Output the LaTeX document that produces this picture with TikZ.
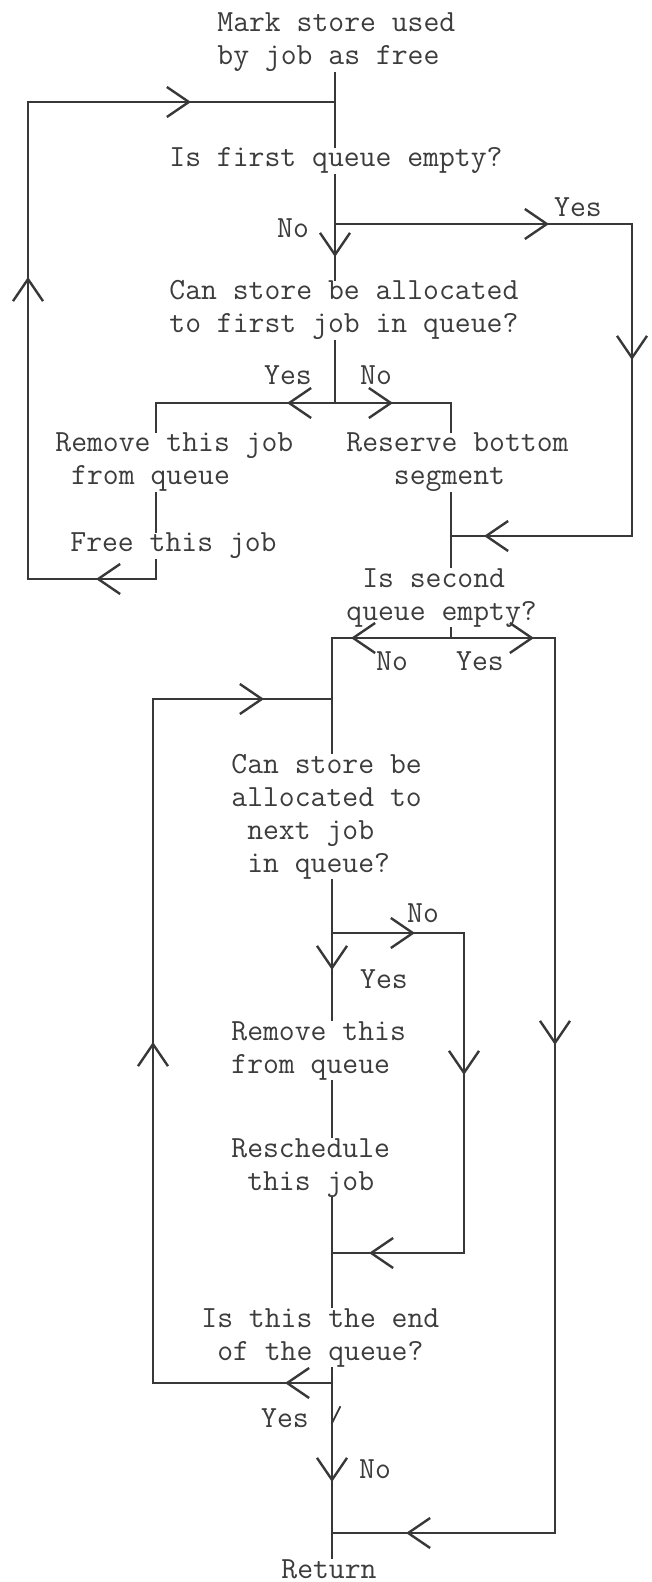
\documentclass[tikz,border=0pt]{standalone}
\usetikzlibrary{arrows.meta,decorations.markings}
\definecolor{ink}{HTML}{383838}
\definecolor{type}{HTML}{3C3C3C}
\tikzset{
  flow/.style={draw=ink,line width=1.4pt,line cap=rect},
  midarr/.style={postaction={decorate},decoration={markings,
    mark=at position #1 with {\arrow{Straight Barb[length=11pt,width=15pt,line width=1.2pt]}}}},
  txt/.style={anchor=base west,align=left,inner sep=0.5pt,text=type,
    font=\ttfamily\fontsize{15.4}{16.5}\selectfont},
  lbl/.style={txt,anchor=base},
}
\begin{document}
\begin{tikzpicture}[x=0.5pt,y=-0.5pt]
\useasboundingbox (0,0) rectangle (652,1582);
%
% texts of the first part (placed at the baseline of the last line)
\node[txt] (mark) at (216,65) {Mark store used\\by job as free};
\node[txt] (q1) at (168,167) {Is first queue empty?};
\node[txt] (q2) at (168,333) {Can store be allocated\\to first job in queue?};
\node[txt] (rem1) at (54,485) {Remove this job\\~from queue};
\node[txt] (res) at (345,485) {Reserve bottom\\~~~segment};
\node[txt] (free) at (69,552) {Free this job};
\node[txt] (q3) at (345,620) {~Is second\\queue empty?};
%
% texts of the second part
\node[txt] (q4) at (230,872) {Can store be\\allocated to\\~next job\\~in queue?};
\node[txt] (rem2) at (230,1073) {Remove this\\from queue};
\node[txt] (resch) at (230,1190) {Reschedule\\~this job};
\node[txt] (q5) at (200,1360) {Is this the end\\~of the queue?};
\node[txt] (ret) at (280,1578) {Return};
%
% yes / no
\node[lbl] (n1) at (293,238) {No};
\node[lbl] (y1) at (578,217) {Yes};
\node[lbl] (y2) at (288,385) {Yes};
\node[lbl] (n2) at (376,385) {No};
\node[lbl] (n3) at (392,670) {No};
\node[lbl] (y3) at (480,670) {Yes};
\node[lbl] (n4) at (423,922) {No};
\node[lbl] (y4) at (384,988) {Yes};
\node[lbl] (y5) at (285,1427) {Yes};
\node[lbl] (n5) at (375,1478) {No};
%
\coordinate (j1) at (335,102);
\coordinate (c1) at (28,102);
\coordinate (c2) at (28,579);
\coordinate (j2) at (335,224);
\coordinate (c3) at (632,224);
\coordinate (c4) at (632,536);
\coordinate (j3) at (335,403);
\coordinate (c5) at (156,403);
\coordinate (c6) at (451,403);
\coordinate (c7) at (156,579);
\coordinate (j4) at (451,536);
%
\draw[flow] (mark.south -| j1) -- (j1);
\draw[flow] (j1) -- (q1.north -| j1);
\draw[flow] (q1.south -| j1) -- (j2);
\draw[flow,midarr=16.5pt] (j2) -- (q2.north -| j2);
\draw[flow,midarr=107pt] (j2) -- (c3);
\draw[flow,midarr=68pt] (c3) -- (c4);
\draw[flow,midarr=74pt] (c4) -- (j4);
\draw[flow] (q2.south -| j2) -- (j3);
\draw[flow,midarr=24pt] (j3) -- (c5);
\draw[flow,midarr=29pt] (j3) -- (c6);
\draw[flow] (c5) -- (rem1.north -| c5);
\draw[flow] (rem1.south -| c5) -- (free.north -| c5);
\draw[flow] (free.south -| c5) -- (c7);
\draw[flow,midarr=30pt] (c7) -- (c2);
\draw[flow,midarr=151pt] (c2) -- (c1);
\draw[flow,midarr=81.5pt] (c1) -- (j1);
\draw[flow] (c6) -- (res.north -| c6);
\draw[flow] (res.south -| c6) -- (j4) -- (q3.north -| j4);
%
\coordinate (j5) at (451,638);
\coordinate (c8) at (332,638);
\coordinate (c9) at (555,638);
\coordinate (j6) at (332,699);
\coordinate (c10) at (153,699);
\coordinate (j7) at (332,933);
\coordinate (c11) at (464,933);
\coordinate (j8) at (332,1253);
\coordinate (c12) at (464,1253);
\coordinate (j9) at (332,1383);
\coordinate (c13) at (153,1383);
\coordinate (j10) at (332,1533);
\coordinate (c14) at (555,1533);
%
\draw[flow] (q3.south -| j5) -- (j5);
\draw[flow,midarr=50pt] (j5) -- (c8);
\draw[flow,midarr=41.5pt] (j5) -- (c9);
\draw[flow] (c8) -- (j6) -- (q4.north -| j6);
\draw[flow,midarr=55.5pt] (c10) -- (j6);
\draw[flow,midarr=170.5pt] (c13) -- (c10);
\draw[flow] (q4.south -| j7) -- (j7);
\draw[flow,midarr=18.5pt] (j7) -- (rem2.north -| j7);
\draw[flow,midarr=41.5pt] (j7) -- (c11);
\draw[flow,midarr=71pt] (c11) -- (c12);
\draw[flow,midarr=47.5pt] (c12) -- (j8);
\draw[flow] (rem2.south -| j7) -- (resch.north -| j7);
\draw[flow] (resch.south -| j8) -- (j8) -- (q5.north -| j8);
\draw[flow] (q5.south -| j9) -- (j9);
\draw[flow,midarr=23.5pt] (j9) -- (c13);
\draw[flow,midarr=49.5pt] (j9) -- (j10);
\draw[flow,midarr=203.5pt] (c9) -- (c14);
\draw[flow,midarr=74.5pt] (c14) -- (j10);
\draw[flow] (j10) -- (ret.north -| j10);
% half struck tip
\draw[flow,line width=0.9pt] (332,1423) -- (340,1407);
\end{tikzpicture}
\end{document}
